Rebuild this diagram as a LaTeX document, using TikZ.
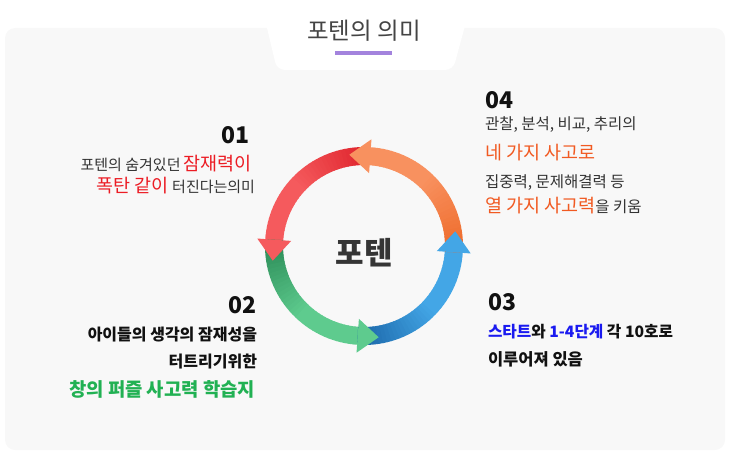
\documentclass[tikz,border=0pt]{standalone}
\usepackage{fontspec}
\setmainfont{Noto Sans CJK KR}
\usetikzlibrary{calc}
\definecolor{panel}{HTML}{F8F8F8}
\definecolor{titlegray}{HTML}{444444}
\definecolor{txt}{HTML}{333333}
\definecolor{txtb}{HTML}{111111}
\definecolor{uline}{HTML}{A383DD}
\definecolor{kred}{HTML}{EC1C24}
\definecolor{korange}{HTML}{F15A22}
\definecolor{kblue}{HTML}{1A1AF0}
\definecolor{kgreen}{HTML}{21B153}
\definecolor{redD}{HTML}{DF222B}
\definecolor{redL}{HTML}{F55A5D}
\definecolor{grnD}{HTML}{2A8A56}
\definecolor{grnL}{HTML}{5ECB8E}
\definecolor{bluD}{HTML}{1B66A8}
\definecolor{bluL}{HTML}{43A6E6}
\definecolor{orgD}{HTML}{EE6A2A}
\definecolor{orgL}{HTML}{F8915F}
\newcommand\ringbody[4]{%
  \foreach \k in {0,...,35}{%
    \pgfmathsetmacro\aa{#1+(#2-#1)*\k/36}%
    \pgfmathsetmacro\bb{#1+(#2-#1)*(\k+1)/36+0.6}%
    \pgfmathtruncatemacro\pp{min(100,\k*100/20)}%
    \colorlet{segc}{#4!\pp!#3}%
    \draw[segc, line width=18pt] ($(C)+(\aa:90pt)$) arc[start angle=\aa, end angle=\bb, radius=90pt];
  }}
\newcommand\ringhead[2]{%
  \fill[#2] ($(C)+(#1:73pt)$) -- ($(C)+(#1:107pt)$) -- ($(C)+(#1:90pt)+(#1+90:21pt)$) -- cycle;}
\tikzset{
  txtnode/.style={inner sep=0pt, outer sep=0pt, text=txt, font=\fontsize{15.5}{18}\selectfont},
  boldnode/.style={inner sep=0pt, outer sep=0pt, text=txtb, font=\bfseries\fontsize{15.7}{18}\selectfont},
  numnode/.style={inner sep=0pt, outer sep=0pt, text=txtb, font=\bfseries\fontsize{23}{26}\selectfont},
}
\begin{document}
\begin{tikzpicture}[x=1pt,y=1pt]
\useasboundingbox (0,0) rectangle (730,451);
\fill[panel, rounded corners=10pt] (5,1) rectangle (725,423);
\fill[white, rounded corners=8pt] (263,440) -- (277,381) -- (453,381) -- (469,440) -- cycle;
\node[inner sep=0pt, anchor=base, text=titlegray, font=\fontsize{23.5}{27}\selectfont] (title) at (364,411) {포텐의 의미};
\fill[uline] (335,396) rectangle (392,400);

\coordinate (C) at (364,205);
\ringbody{86}{176}{redD}{redL}
\ringbody{176}{266}{grnD}{grnL}
\ringbody{266}{356}{bluD}{bluL}
\ringbody{356}{446}{orgD}{orgL}
\ringhead{176}{redL}
\ringhead{266}{grnL}
\ringhead{356}{bluL}
\ringhead{86}{orgL}
\node[inner sep=0pt, anchor=base, text=txtb!85!white, font=\bfseries\fontsize{31}{34}\selectfont] (center) at (364,187) {포텐};

% 01
\node[numnode, anchor=base east] (n01) at (250,308) {01};
\node[txtnode, anchor=base east, font=\fontsize{15}{18}\selectfont] (l011) at (252,281) {포텐의 숨겨있던 \textcolor{kred}{\fontsize{18.5}{20}\selectfont 잠재력이}};
\node[txtnode, anchor=base east, font=\fontsize{15}{18}\selectfont] (l012) at (255,259) {\textcolor{kred}{\fontsize{18.5}{20}\selectfont 폭탄 같이} 터진다는의미};

% 02
\node[numnode, anchor=base east] (n02) at (257,138) {02};
\node[boldnode, anchor=base east, font=\bfseries\fontsize{16}{18}\selectfont] (l021) at (257,111) {아이들의 생각의 잠재성을};
\node[boldnode, anchor=base east, font=\bfseries\fontsize{16}{18}\selectfont] (l022) at (257,84) {터트리기위한};
\node[boldnode, anchor=base east, text=kgreen, font=\bfseries\fontsize{18.8}{22}\selectfont] (l023) at (255,55) {창의 퍼즐 사고력 학습지};

% 04
\node[numnode, anchor=base west] (n04) at (485,343) {04};
\node[txtnode, anchor=base west] (l041) at (485,322) {관찰, 분석, 비교, 추리의};
\node[txtnode, anchor=base west, text=korange, font=\fontsize{18.5}{21}\selectfont] (l042) at (485,292) {네 가지 사고로};
\node[txtnode, anchor=base west] (l043) at (485,264) {집중력, 문제해결력 등};
\node[txtnode, anchor=base west] (l044) at (485,239) {\textcolor{korange}{\fontsize{18.5}{21}\selectfont 열 가지 사고력}을 키움};

% 03
\node[numnode, anchor=base west] (n03) at (488,141) {03};
\node[boldnode, anchor=base west] (l031) at (488,114) {\textcolor{kblue}{스타트}와 \textcolor{kblue}{1-4단계} 각 10호로};
\node[boldnode, anchor=base west, font=\bfseries\fontsize{16.5}{18}\selectfont] (l032) at (488,86) {이루어져 있음};
\end{tikzpicture}
\end{document}
